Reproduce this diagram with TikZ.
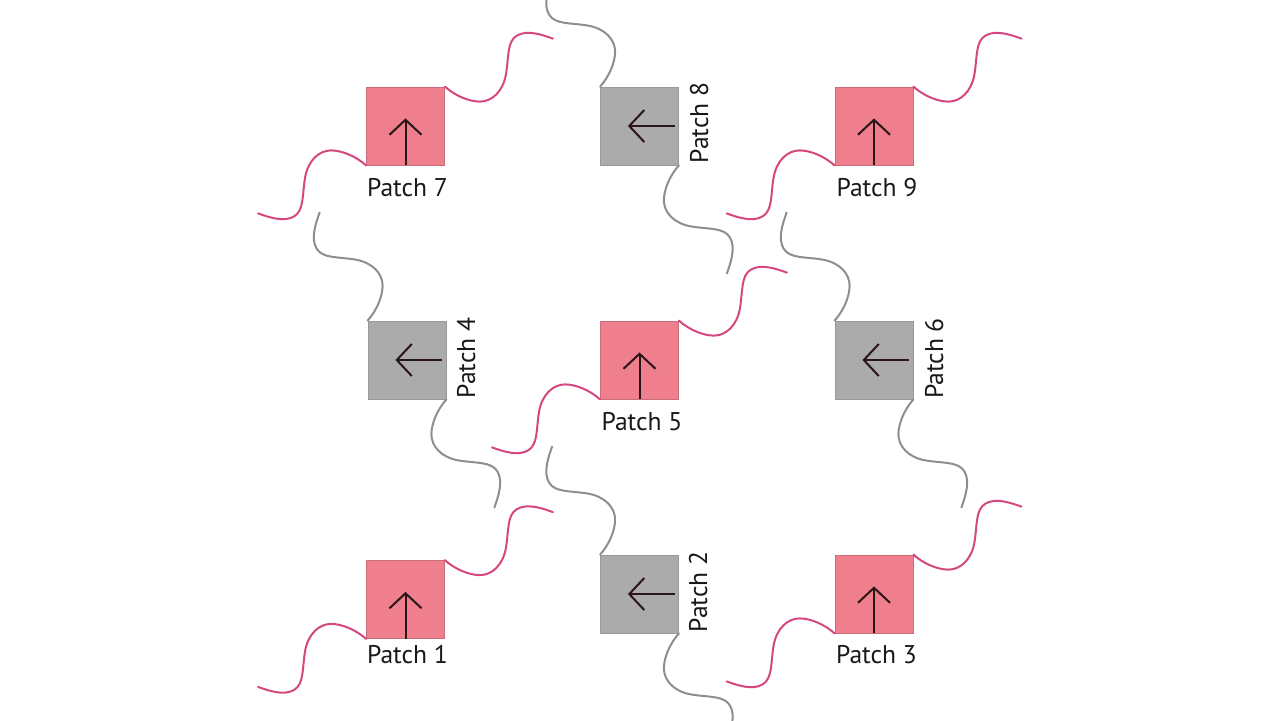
\documentclass[tikz,border=0pt]{standalone}
\usepackage{fontspec}
\setmainfont{PT Sans}
\usetikzlibrary{arrows.meta}
\definecolor{pinkfill}{HTML}{EF7F8D}
\definecolor{pinkline}{HTML}{D4477F}
\definecolor{grayfill}{HTML}{ABABAB}
\definecolor{grayline}{HTML}{8E8E8E}
\definecolor{pinkborder}{HTML}{C86D7A}
\definecolor{grayborder}{HTML}{989898}
\definecolor{arrowc}{HTML}{2A1518}
\begin{document}
\begin{tikzpicture}[x=0.5pt,y=-0.5pt,
  pinkbox/.style={draw=pinkborder,line width=0.4pt,fill=pinkfill,minimum width=39pt,minimum height=39pt,inner sep=0pt},
  graybox/.style={draw=grayborder,line width=0.4pt,fill=grayfill,minimum width=39pt,minimum height=39pt,inner sep=0pt},
  lbl/.style={font=\fontsize{12.8}{14}\selectfont,inner sep=0pt,anchor=base,text=black!90},
  glbl/.style={lbl,rotate=90},
  dirarrow/.style={draw=arrowc,line width=1pt,-{Straight Barb[length=7.5pt,width=16pt,line width=1pt]}},
  wave/.pic={\draw[pic actions,line width=1pt,line cap=round]
     (0,0) .. controls (10,9) and (24,15) .. (35,15)
     .. controls (47,15) and (58,5) .. (61,-12)
     .. controls (64,-30) and (62,-45) .. (72,-51)
     .. controls (82,-57) and (97,-52) .. (108,-48);},
  pinkwave/.style={draw=pinkline},
  graywave/.style={draw=grayline}
]
\useasboundingbox[fill=white] (0,0) rectangle (1280,720);

% squares
\node[pinkbox] (p7) at (405.5,126) {};
\node[graybox] (p8) at (639.5,126) {};
\node[pinkbox] (p9) at (874,126) {};
\node[graybox] (p4) at (407,360) {};
\node[pinkbox] (p5) at (639.5,360) {};
\node[graybox] (p6) at (874,360) {};
\node[pinkbox] (p1) at (405.5,599.5) {};
\node[graybox] (p2) at (639.5,594) {};
\node[pinkbox] (p3) at (874,594) {};

% waves on pink patches
\foreach \p in {p7,p9,p5,p1,p3}{
  \pic[pinkwave] at (\p.north east) {wave};
  \pic[pinkwave,rotate=180] at (\p.south west) {wave};
}
% waves on gray patches
\foreach \p in {p8,p4,p6,p2}{
  \pic[graywave,rotate=90] at (\p.north west) {wave};
  \pic[graywave,rotate=-90] at (\p.south east) {wave};
}

% arrows
\foreach \p in {p7,p9,p5,p1,p3}{
  \draw[dirarrow] (\p.south) -- ++(0,-47);
}
\foreach \p in {p8,p4,p6,p2}{
  \draw[dirarrow] ([xshift=-2pt]\p.east) -- ++(-47,0);
}

% labels
\node[lbl] (l7) at (407.5,196) {Patch 7};
\node[lbl] (l9) at (877,196) {Patch 9};
\node[lbl] (l5) at (642,430) {Patch 5};
\node[lbl] (l1) at (407.5,663) {Patch 1};
\node[lbl] (l3) at (876.5,663) {Patch 3};
\node[glbl] (l8) at (708,123) {Patch 8};
\node[glbl] (l4) at (475,358) {Patch 4};
\node[glbl] (l6) at (943,358.5) {Patch 6};
\node[glbl] (l2) at (707,592) {Patch 2};
\end{tikzpicture}
\end{document}
